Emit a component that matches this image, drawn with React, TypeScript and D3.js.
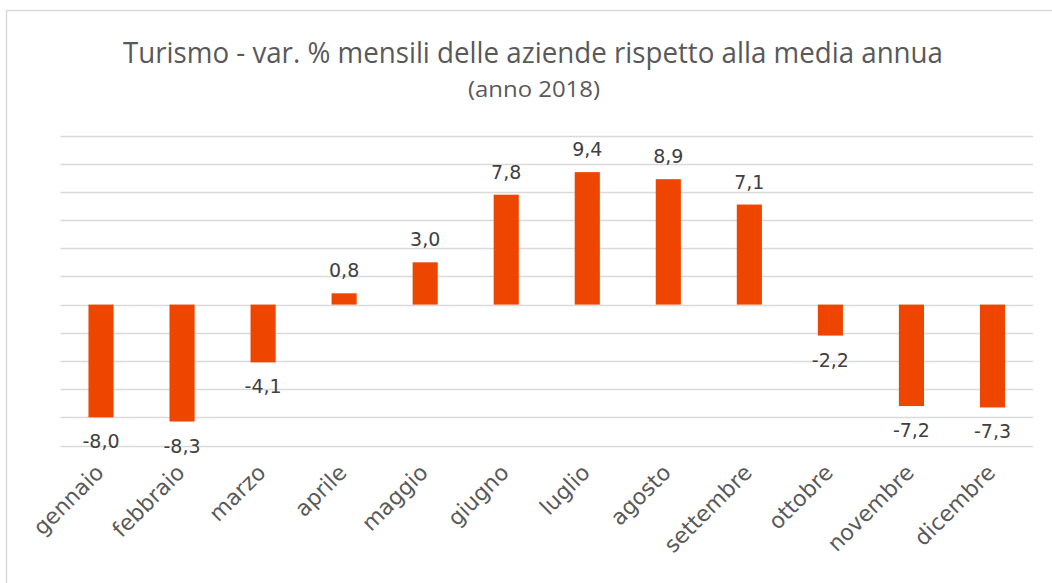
import React from "react";
import * as d3 from "d3";

const months = ["gennaio", "febbraio", "marzo", "aprile", "maggio", "giugno", "luglio", "agosto", "settembre", "ottobre", "novembre", "dicembre"];
const values = [-8.0, -8.3, -4.1, 0.8, 3.0, 7.8, 9.4, 8.9, 7.1, -2.2, -7.2, -7.3];
const gridTicks = [-10, -8, -6, -4, -2, 0, 2, 4, 6, 8, 10, 12];
const titleText = "Turismo - var. % mensili delle aziende rispetto alla media annua";
const subtitleText = "(anno 2018)";

const W = 1052;
const H = 583;

export default function App() {
  const x = d3.scaleBand<string>().domain(months).range([60.5, 1033]).paddingInner(0.69).paddingOuter(0.345);
  const y = d3.scaleLinear().domain([-10, 12]).range([445.5, 135.5]);
  const fmt = (v: number) => v.toFixed(1).replace(".", ",");
  const bw = x.bandwidth();
  return (
    <svg width={W} height={H} style={{ position: "absolute", left: 0, top: 0, background: "#fff" }}>
      <rect x={6.5} y={10.5} width={1060} height={600} fill="#fff" stroke="#d9d9d9" strokeWidth={1.5} />
      <text x={533} y={63} textAnchor="middle" fontFamily="Open Sans" fontSize={29} fill="#595959" textLength={820} lengthAdjust="spacingAndGlyphs">{titleText}</text>
      <text x={534} y={97} textAnchor="middle" fontFamily="Open Sans" fontSize={21} fill="#595959" textLength={132} lengthAdjust="spacingAndGlyphs">{subtitleText}</text>
      {gridTicks.map((t) => (
        <line key={t} x1={60.5} x2={1033} y1={Math.round(y(t)) + 0.5} y2={Math.round(y(t)) + 0.5} stroke="#d9d9d9" strokeWidth={1.5} />
      ))}
      {months.map((m, i) => {
        const v = values[i];
        const y0 = y(0);
        const yv = y(v);
        return (
          <rect key={m} x={x(m)!} y={Math.min(y0, yv)} width={bw} height={Math.abs(yv - y0)} fill="#EE4600" />
        );
      })}
      {months.map((m, i) => {
        const v = values[i];
        const cx = x(m)! + bw / 2;
        const ly = v >= 0 ? y(v) - 16 : y(v) + 31;
        return (
          <text key={m} x={cx} y={ly} textAnchor="middle" fontFamily="Verdana, 'DejaVu Sans'" fontSize={19} fill="#404040">{fmt(v)}</text>
        );
      })}
      {months.map((m) => {
        const cx = x(m)! + bw / 2 + 4;
        const ly = 474;
        return (
          <text key={m} x={cx} y={ly} textAnchor="end" transform={`rotate(-45 ${cx} ${ly})`} fontFamily="Verdana, 'DejaVu Sans'" fontSize={22} fill="#595959">{m}</text>
        );
      })}
    </svg>
  );
}
